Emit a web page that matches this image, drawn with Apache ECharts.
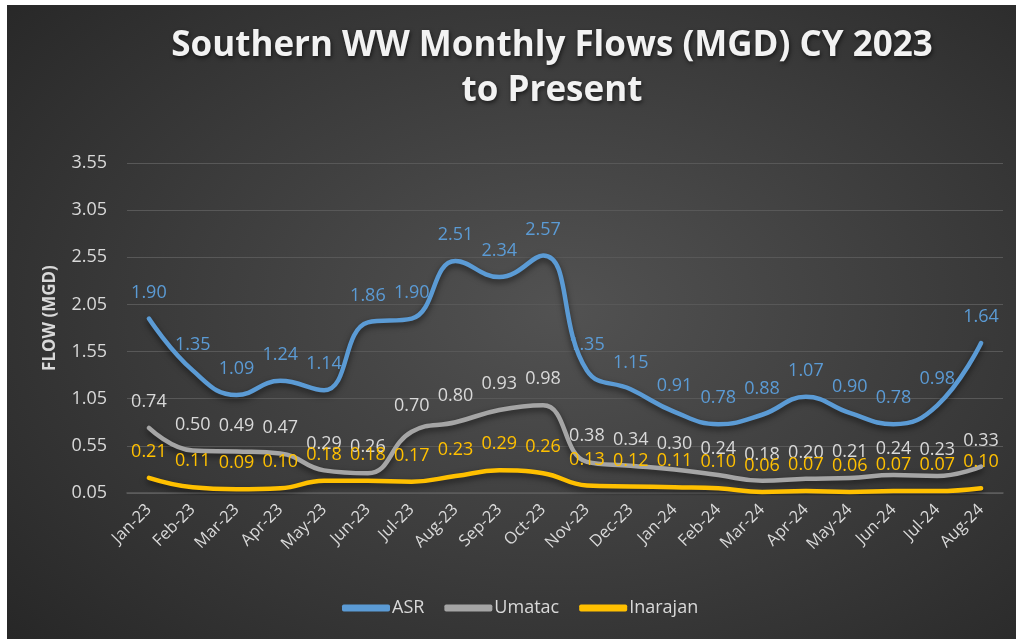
<!DOCTYPE html>
<html>
<head>
<meta charset="utf-8">
<title>Southern WW Monthly Flows</title>
<script src="https://cdn.jsdelivr.net/npm/echarts@6/dist/echarts.min.js"></script>
<style>
  html, body { margin: 0; padding: 0; background: #ffffff; }
  #chart {
    position: absolute; left: 7px; top: 5px; width: 1009px; height: 634px;
    background: radial-gradient(ellipse 75% 80% at 55% 48%, #525252 0%, #3a3a3a 55%, #262626 100%);
  }
</style>
</head>
<body>
<div id="chart"></div>
<script>
// Monthly categories
const months = ['Jan-23','Feb-23','Mar-23','Apr-23','May-23','Jun-23','Jul-23','Aug-23','Sep-23','Oct-23',
                'Nov-23','Dec-23','Jan-24','Feb-24','Mar-24','Apr-24','May-24','Jun-24','Jul-24','Aug-24'];

// Flows in MGD per plant
const asr      = [1.90,1.35,1.09,1.24,1.14,1.86,1.90,2.51,2.34,2.57,1.35,1.15,0.91,0.78,0.88,1.07,0.90,0.78,0.98,1.64];
const umatac   = [0.74,0.50,0.49,0.47,0.29,0.26,0.70,0.80,0.93,0.98,0.38,0.34,0.30,0.24,0.18,0.20,0.21,0.24,0.23,0.33];
const inarajan = [0.21,0.11,0.09,0.10,0.18,0.18,0.17,0.23,0.29,0.26,0.13,0.12,0.11,0.10,0.06,0.07,0.06,0.07,0.07,0.10];

// Value axis range
const yMin = 0.05, yMax = 3.55, yStep = 0.5;

const FONT = '"Open Sans", "Noto Sans", sans-serif';
const TEXT = '#d9d9d9';

function lineSeries(name, data, color, labelColor) {
  return {
    name: name,
    type: 'line',
    data: data,
    smooth: 0.45,
    symbol: 'circle',
    symbolSize: 2,
    itemStyle: { color: color },
    lineStyle: {
      width: 4.5, color: color, cap: 'round', join: 'round',
      shadowColor: 'rgba(0,0,0,0.55)', shadowBlur: 6, shadowOffsetY: 3
    },
    label: {
      show: true, position: 'top', distance: 16,
      color: labelColor, fontFamily: FONT, fontSize: 18,
      formatter: p => p.value.toFixed(2)
    },
    emphasis: { disabled: true }
  };
}

const chart = echarts.init(document.getElementById('chart'), null, { renderer: 'canvas' });
chart.setOption({
  backgroundColor: 'transparent',
  animation: false,
  textStyle: { fontFamily: FONT },
  title: {
    text: 'Southern WW Monthly Flows (MGD) CY 2023\nto Present',
    left: 545, top: 19, padding: 0,
    textAlign: 'center',
    textStyle: {
      color: '#f2f2f2', fontFamily: FONT, fontWeight: 'bold', fontSize: 35, lineHeight: 45,
      textShadowColor: 'rgba(0,0,0,0.6)', textShadowBlur: 4, textShadowOffsetX: 1, textShadowOffsetY: 2
    }
  },
  legend: {
    data: ['ASR', 'Umatac', 'Inarajan'],
    left: 330, top: 589,
    icon: 'roundRect',
    itemWidth: 48, itemHeight: 7, itemGap: 20,
    textStyle: { color: TEXT, fontFamily: FONT, fontSize: 18, padding: [0, 0, 0, -3] }
  },
  grid: { left: 120, right: 13, top: 158, bottom: 146, containLabel: false },
  xAxis: {
    type: 'category',
    data: months,
    boundaryGap: true,
    axisLine: { show: true, lineStyle: { color: '#5e5e5e', width: 1.5 } },
    axisTick: { show: false },
    axisLabel: { color: TEXT, fontFamily: FONT, fontSize: 16.5, rotate: 45, margin: 14, interval: 0 }
  },
  yAxis: {
    type: 'value',
    min: yMin, max: yMax, interval: yStep,
    name: 'FLOW (MGD)',
    nameLocation: 'middle',
    nameGap: 68,
    nameTextStyle: { color: TEXT, fontFamily: FONT, fontWeight: 'bold', fontSize: 17, padding: [0, 0, 0, 20] },
    axisLine: { show: false },
    axisTick: { show: false },
    axisLabel: { color: TEXT, fontFamily: FONT, fontSize: 18, margin: 20, formatter: v => v.toFixed(2) },
    splitLine: { lineStyle: { color: '#585858', width: 1.2 } }
  },
  series: [
    lineSeries('ASR', asr, '#5b9bd5', '#5b9bd5'),
    lineSeries('Umatac', umatac, '#a5a5a5', '#d9d9d9'),
    lineSeries('Inarajan', inarajan, '#ffc000', '#ffc000')
  ]
});
</script>
</body>
</html>
